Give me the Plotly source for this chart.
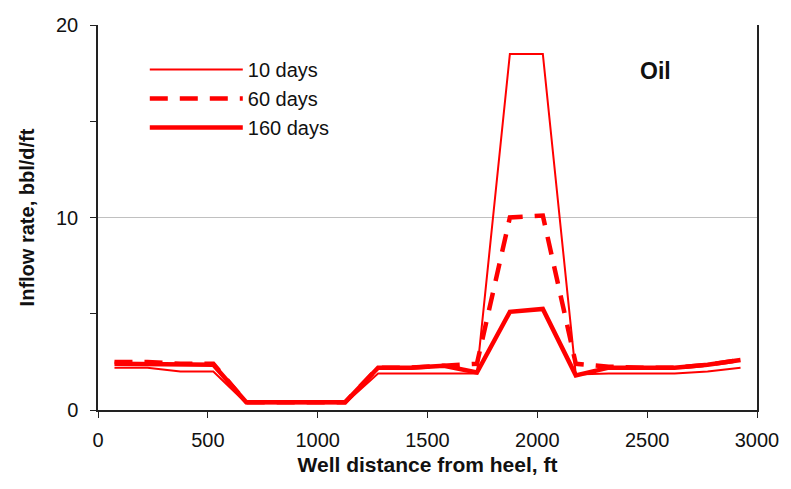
import plotly.graph_objects as go

distance_ft = [75, 225, 375, 525, 675, 825, 975, 1125, 1275, 1425,
               1575, 1725, 1875, 2025, 2175, 2325, 2475, 2625, 2775, 2925]
rate_10d = [2.2, 2.2, 2.0, 2.0, 0.35, 0.35, 0.35, 0.35, 1.9, 1.9,
            1.9, 1.9, 18.5, 18.5, 1.85, 1.9, 1.9, 1.9, 2.0, 2.2]
rate_60d = [2.5, 2.5, 2.4, 2.4, 0.4, 0.4, 0.4, 0.4, 2.2, 2.2,
            2.3, 2.4, 10.0, 10.1, 2.4, 2.25, 2.2, 2.2, 2.35, 2.6]
rate_160d = [2.4, 2.4, 2.35, 2.35, 0.4, 0.4, 0.4, 0.4, 2.2, 2.2,
             2.3, 1.95, 5.1, 5.25, 1.8, 2.2, 2.2, 2.2, 2.35, 2.6]
series_names = ["10 days", "60 days", "160 days"]
x_ticks = [0, 500, 1000, 1500, 2000, 2500, 3000]
y_ticks = [0, 10, 20]

RED = "#ff0000"
FONT = "Liberation Sans, Arial, sans-serif"

fig = go.Figure()
fig.add_trace(go.Scatter(x=distance_ft, y=rate_10d, name=series_names[0], mode="lines",
                         line=dict(color=RED, width=2)))
fig.add_trace(go.Scatter(x=distance_ft, y=rate_60d, name=series_names[1], mode="lines",
                         line=dict(color=RED, width=4.5, dash="18px,12px")))
fig.add_trace(go.Scatter(x=distance_ft, y=rate_160d, name=series_names[2], mode="lines",
                         line=dict(color=RED, width=4.5)))

fig.update_layout(
    width=791, height=489,
    margin=dict(l=98, r=29, t=25, b=79),
    paper_bgcolor="white", plot_bgcolor="white",
    font=dict(family=FONT, size=20, color="#111"),
    showlegend=True,
    legend=dict(x=0.071, y=0.935, xanchor="left", yanchor="top",
                bgcolor="rgba(0,0,0,0)", font=dict(size=20, color="#111"),
                itemwidth=93, tracegroupgap=0),
    annotations=[dict(text="<b>Oil</b>", x=0.846, y=0.88, xref="paper", yref="paper",
                      xanchor="center", yanchor="middle",
                      showarrow=False, font=dict(size=23, color="#111"))],
)
fig.update_xaxes(
    range=[0, 3000], tickvals=x_ticks, ticks="outside", ticklen=6, tickcolor="#222",
    showline=True, linecolor="#222", linewidth=1.5, showgrid=False, zeroline=False,
    ticklabelstandoff=5,
    title=dict(text="<b>Well distance from heel, ft</b>", font=dict(size=21), standoff=8),
)
fig.update_yaxes(
    range=[0, 20], tickvals=y_ticks, ticks="outside", ticklen=6, tickcolor="#222",
    minor=dict(dtick=5, ticks="outside", ticklen=6, tickcolor="#222", showgrid=False),
    showline=True, linecolor="#222", linewidth=1.5, mirror=True,
    showgrid=True, gridcolor="#c0c0c0", gridwidth=1, zeroline=False,
    ticklabelstandoff=8,
    title=dict(text="<b>Inflow rate, bbl/d/ft</b>", font=dict(size=20), standoff=16),
)

fig.write_html("out.html")
